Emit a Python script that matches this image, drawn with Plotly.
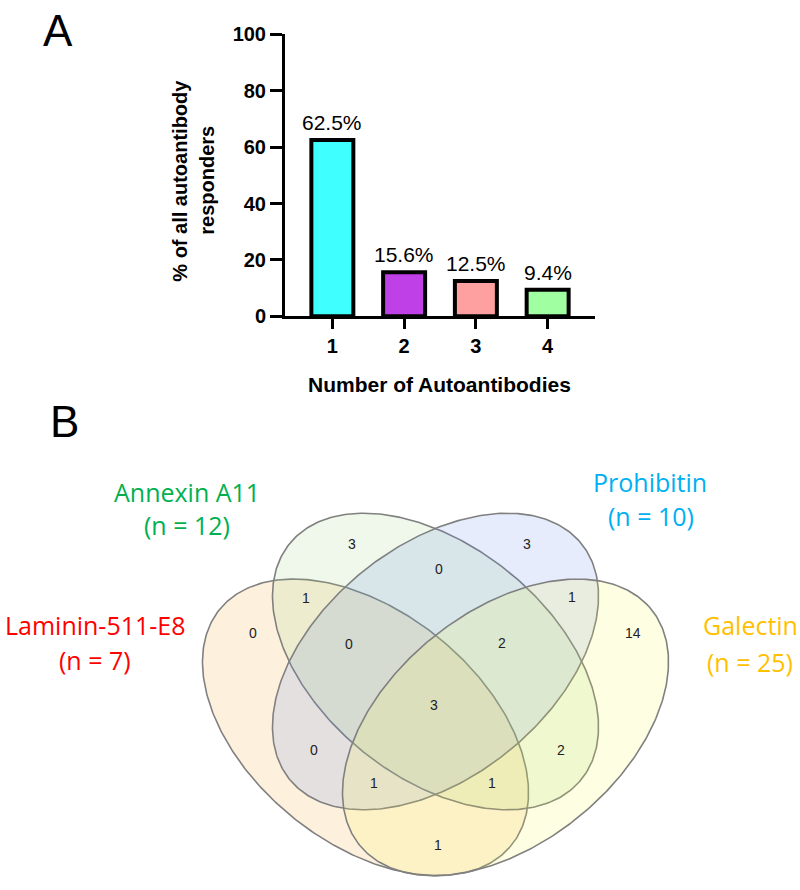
import numpy as np
import plotly.graph_objects as go

# ---------------- Panel A data ----------------
n_autoantibodies = [1, 2, 3, 4]
pct_responders = [62.5, 15.6, 12.5, 9.4]
pct_labels = ["62.5%", "15.6%", "12.5%", "9.4%"]
bar_colors = ["#40FFFF", "#C040E8", "#FFA0A0", "#A0FFA0"]
y_ticks = [0, 20, 40, 60, 80, 100]

# ---------------- Panel B data ----------------
set_names = ["Laminin-511-E8", "Annexin A11", "Prohibitin", "Galectin"]
set_sizes = [7, 12, 10, 25]
set_text_colors = ["#FF0000", "#00B050", "#00B0F0", "#FFC000"]
# region membership keys (L=Laminin, A=Annexin, P=Prohibitin, G=Galectin)
region_keys = ["A", "P", "AP", "LA", "PG", "L", "G", "LAP", "APG",
               "LAPG", "LP", "AG", "LPG", "LAG", "LG"]
region_counts = [3, 3, 0, 1, 1, 0, 14, 0, 2, 3, 0, 2, 1, 1, 1]

# ---------------- layout geometry (pixels) ----------------
W, H = 800, 890
FONT = "Arial, Liberation Sans, sans-serif"
VFONT = "Open Sans, Noto Sans, sans-serif"

# ellipse geometry: centre x, centre y, semi-major, semi-minor, angle(deg)
ell_geom = [
    (365.5, 734.5, 189.5, 117.4, 40.5),   # Laminin (outer left)
    (435.5, 667.0, 189.5, 117.4, 40.5),   # Annexin (inner)
    (435.5, 667.0, 189.5, 117.4, -40.5),  # Prohibitin (inner)
    (505.5, 734.5, 189.5, 117.4, -40.5),  # Galectin (outer right)
]
ell_fill = ["rgba(242,162,35,0.15)", "rgba(148,208,115,0.15)",
            "rgba(88,128,235,0.15)", "rgba(248,248,62,0.15)"]
region_pos = {
    "A": (352, 547), "P": (527, 546), "AP": (439, 572), "LA": (306, 602),
    "PG": (572, 601), "L": (253, 638), "G": (633, 638), "LAP": (349, 649),
    "APG": (502, 648), "LAPG": (434, 712), "LP": (314, 758), "AG": (561, 758),
    "LPG": (374, 792), "LAG": (492, 792), "LG": (438, 855),
}
name_pos = [((95, 630), (95, 665)), ((187, 493), (187, 527)),
            ((650, 483), (651, 518)), ((750, 630), (750, 667))]


def ellipse_xy(cx, cy, a, b, ang_deg, n=400):
    t = np.linspace(0, 2 * np.pi, n)
    th = np.radians(ang_deg)
    x = cx + a * np.cos(t) * np.cos(th) - b * np.sin(t) * np.sin(th)
    y = cy + a * np.cos(t) * np.sin(th) + b * np.sin(t) * np.cos(th)
    return x, y


fig = go.Figure()

# Panel A bars
fig.add_trace(go.Bar(
    x=n_autoantibodies, y=pct_responders,
    marker=dict(color=bar_colors, line=dict(color="black", width=4)),
    width=0.585, xaxis="x", yaxis="y", hoverinfo="skip", showlegend=False))

# Panel B ellipses
for (cx, cy, a, b, ang), fc in zip(ell_geom, ell_fill):
    ex, ey = ellipse_xy(cx, cy, a, b, ang)
    fig.add_trace(go.Scatter(
        x=ex, y=ey, mode="lines", fill="toself", fillcolor=fc,
        line=dict(color="rgb(128,128,128)", width=1.6),
        xaxis="x2", yaxis="y2", hoverinfo="skip", showlegend=False))

ann = []
# bar value labels
for xv, yv, lab in zip(n_autoantibodies, pct_responders, pct_labels):
    ann.append(dict(x=xv, y=yv, xref="x", yref="y", text=lab, showarrow=False,
                    yanchor="bottom", yshift=4,
                    font=dict(family=FONT, size=21, color="black")))

# panel letters and axis titles (pixel coordinates on x2/y2)
ann.append(dict(x=58, y=20, text="A", font=dict(family=FONT, size=44, color="black")))
ann.append(dict(x=64, y=421, text="B", font=dict(family=FONT, size=44, color="black")))
ann.append(dict(x=180, y=174, text="<b>% of all autoantibody</b>", textangle=-90,
                font=dict(family=FONT, size=20, color="black")))
ann.append(dict(x=207, y=174, text="<b>responders</b>", textangle=-90,
                font=dict(family=FONT, size=20, color="black")))
ann.append(dict(x=439, y=383, text="<b>Number of Autoantibodies</b>",
                font=dict(family=FONT, size=21, color="black")))

# set names
for nm, sz, col, (p1, p2) in zip(set_names, set_sizes, set_text_colors, name_pos):
    ann.append(dict(x=p1[0], y=p1[1], text=nm, font=dict(family=VFONT, size=25, color=col)))
    ann.append(dict(x=p2[0], y=p2[1], text=f"(n = {sz})", font=dict(family=VFONT, size=25, color=col)))

# region counts
for k, c in zip(region_keys, region_counts):
    px, py = region_pos[k]
    ann.append(dict(x=px, y=py, text=str(c), font=dict(family=FONT, size=14, color="#222222")))

for a_ in ann:
    a_.setdefault("xref", "x2")
    a_.setdefault("yref", "y2")
    a_.setdefault("showarrow", False)

fig.update_layout(
    width=W, height=H, margin=dict(l=0, r=0, t=0, b=0),
    paper_bgcolor="white", plot_bgcolor="rgba(0,0,0,0)",
    showlegend=False, annotations=ann, bargap=0.4,
    xaxis=dict(domain=[285 / W, 595 / W], range=[0.34, 4.66], anchor="y",
               tickvals=n_autoantibodies,
               ticktext=[f"<b>{v}</b>" for v in n_autoantibodies],
               tickfont=dict(family=FONT, size=20, color="black"),
               showline=True, linecolor="black", linewidth=3,
               ticks="outside", ticklen=10, tickwidth=3, tickcolor="black",
               showgrid=False, zeroline=False, fixedrange=True),
    yaxis=dict(domain=[1 - 313 / H, 1 - 24 / H], range=[0, 100], anchor="x",
               tickvals=y_ticks, ticktext=[f"<b>{v}</b>" for v in y_ticks],
               tickfont=dict(family=FONT, size=20, color="black"),
               showline=True, linecolor="black", linewidth=3,
               ticks="outside", ticklen=12, tickwidth=3, tickcolor="black",
               showgrid=False, zeroline=False, fixedrange=True),
    xaxis2=dict(domain=[0, 1], range=[0, W], anchor="y2", visible=False, fixedrange=True),
    yaxis2=dict(domain=[0, 1], range=[H, 0], anchor="x2", visible=False, fixedrange=True),
)

fig.write_html("out.html", config={"displayModeBar": False},
               post_script="document.body.style.margin='0';")
